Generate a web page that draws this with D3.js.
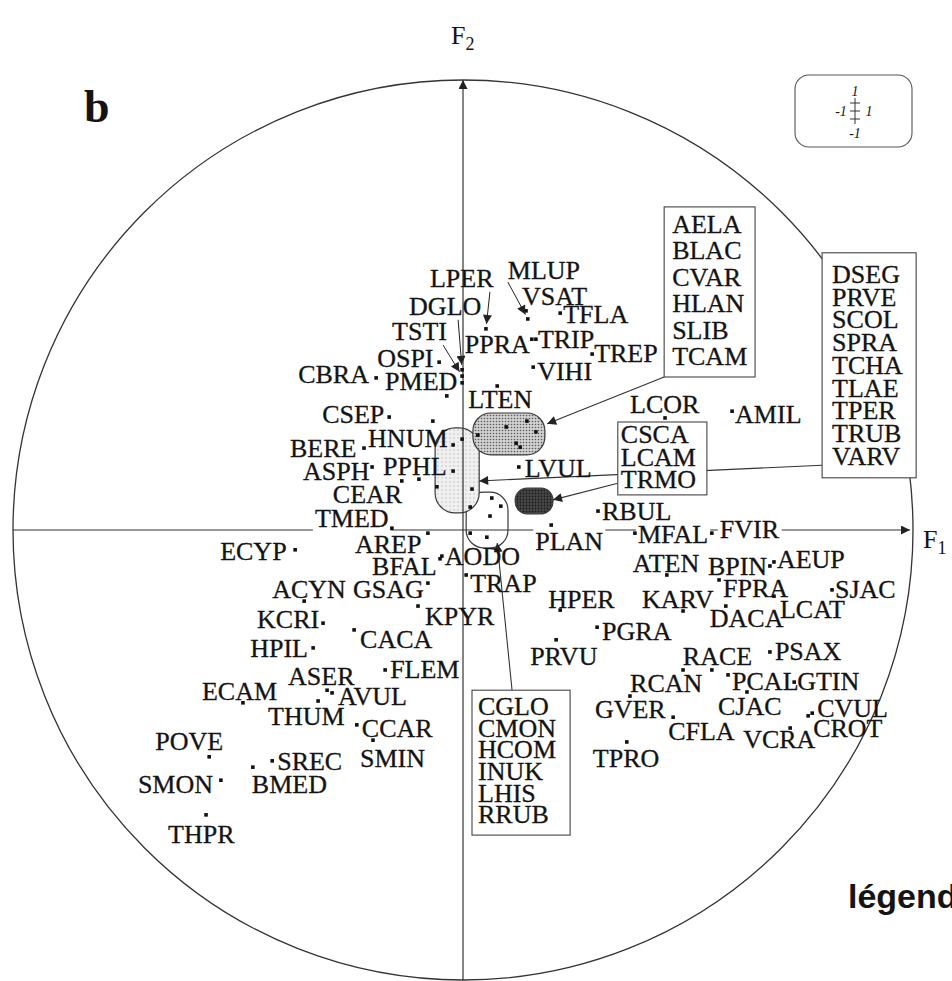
<!DOCTYPE html>
<html lang="fr">
<head>
<meta charset="UTF-8">
<title>Cercle F1 x F2</title>
<script src="https://d3js.org/d3.v7.min.js"></script>
<style>
  body { margin: 0; background: #fff; }
  text { font-family: "Liberation Serif", "DejaVu Serif", serif; fill: #141414; }
  .lab { stroke: #141414; stroke-width: 0.3; }
</style>
</head>
<body>
<script>
// species codes and their coordinates on the first two factors
const species = ["LPER","MLUP","VSAT","DGLO","TSTI","PMED","OSPI","CBRA","PPRA","TRIP",
  "TFLA","VIHI","TREP","LTEN","CSEP","HNUM","BERE","ASPH","PPHL","CEAR",
  "TMED","AREP","ECYP","AODO","BFAL","TRAP","ACYN","GSAG","KPYR","KCRI",
  "CACA","HPIL","FLEM","ASER","AVUL","ECAM","THUM","CCAR","SMIN","POVE",
  "SREC","BMED","SMON","THPR","LVUL","LCOR","AMIL","RBUL","PLAN","MFAL",
  "FVIR","ATEN","BPIN","AEUP","FPRA","SJAC","KARV","DACA","LCAT","HPER",
  "PGRA","PRVU","RACE","PSAX","RCAN","PCAL","GTIN","CJAC","CVUL","CROT",
  "GVER","CFLA","VCRA","TPRO"];
const f1 = [0.051,0.144,0.140,-0.002,-0.002,-0.002,-0.053,-0.193,0.153,0.162,
  0.216,0.156,0.287,0.076,-0.164,-0.022,-0.220,-0.202,-0.022,-0.136,
  -0.158,-0.078,-0.373,-0.047,-0.051,0.007,-0.353,-0.078,-0.100,-0.311,
  -0.242,-0.333,-0.173,-0.302,-0.291,-0.489,-0.322,-0.236,-0.200,-0.564,
  -0.424,-0.467,-0.538,-0.571,0.124,0.449,0.598,0.300,0.196,0.382,
  0.553,0.453,0.682,0.691,0.569,0.820,0.489,0.584,0.691,0.216,
  0.298,0.207,0.553,0.682,0.489,0.589,0.736,0.631,0.776,0.767,
  0.371,0.467,0.727,0.364];
const f2 = [0.447,0.469,0.487,0.356,0.342,0.327,0.373,0.338,0.424,0.424,
  0.482,0.362,0.391,0.320,0.251,0.189,0.182,0.140,0.131,0.109,
  0.004,-0.007,-0.044,-0.058,-0.064,-0.100,-0.158,-0.118,-0.169,-0.207,
  -0.222,-0.262,-0.311,-0.356,-0.362,-0.384,-0.380,-0.433,-0.467,-0.504,
  -0.513,-0.527,-0.556,-0.633,0.140,0.249,0.264,0.042,0.011,-0.007,
  -0.007,-0.100,-0.080,-0.071,-0.111,-0.133,-0.180,-0.169,-0.147,-0.178,
  -0.216,-0.244,-0.311,-0.271,-0.311,-0.322,-0.338,-0.360,-0.407,-0.413,
  -0.369,-0.416,-0.440,-0.471];

// points drawn without a name (inside the grouped areas)
const extraF1 = [-0.036,-0.067,-0.098,0.096,0.142,0.162,0.118,0.127,0.033,-0.002,
  -0.058,0.020,0.016,0.064,0.084,0.060,0.016,0.053];
const extraF2 = [0.298,0.242,0.113,0.229,0.242,0.218,0.193,0.184,0.211,0.202,
  0.096,0.091,0.051,0.071,0.053,0.031,-0.007,-0.016];

// species listed in the boxes
const groupA = ["AELA","BLAC","CVAR","HLAN","SLIB","TCAM"];
const groupB = ["DSEG","PRVE","SCOL","SPRA","TCHA","TLAE","TPER","TRUB","VARV"];
const groupC = ["CSCA","LCAM","TRMO"];
const groupD = ["CGLO","CMON","HCOM","INUK","LHIS","RRUB"];

// shaded areas: [f1 min, f1 max, f2 max, f2 min]
const areaDark = [0.022, 0.182, 0.260, 0.167];
const areaLight = [-0.062, 0.036, 0.227, 0.038];
const areaOpen = [0.007, 0.100, 0.084, -0.040];
const areaBlack = [0.116, 0.200, 0.093, 0.036];

// ---- layout (pixels) ----
const width = 952, height = 981;
const labelOffset = {
  LPER:[-56,-42], MLUP:[-20,-40], VSAT:[-4,-6], DGLO:[-53,-55], TSTI:[-70,-36],
  PMED:[-77,7], OSPI:[-62,5], CBRA:[-78,5], PPRA:[-67,14], TRIP:[2,9],
  TFLA:[3,10], VIHI:[4,13], TREP:[2,8], LTEN:[-29,22], CSEP:[-67,6],
  HNUM:[-85,2], BERE:[-74,9], ASPH:[-69,13], PPHL:[-70,4], CEAR:[-69,22],
  TMED:[-77,-1], AREP:[-73,20], ECYP:[-75,10], AODO:[3,9], BFAL:[-68,16],
  TRAP:[4,17], ACYN:[-32,-3], GSAG:[-75,15], KPYR:[7,19], KCRI:[-66,5],
  CACA:[6,18], HPIL:[-63,9], FLEM:[5,8], ASER:[-39,-5], AVUL:[6,12],
  ECAM:[-41,-3], THUM:[-50,24], CCAR:[5,12], SMIN:[-13,27], POVE:[-54,-7],
  SREC:[5,9], BMED:[-1,26], SMON:[-83,13], THPR:[-38,28], LVUL:[6,10],
  LCOR:[-35,-5], AMIL:[3,12], RBUL:[4,9], PLAN:[-16,25], MFAL:[3,10],
  FVIR:[8,5], ATEN:[-34,-3], BPIN:[-62,9], AEUP:[3,6], FPRA:[4,17],
  SJAC:[3,8], KARV:[-41,-3], DACA:[-16,21], LCAT:[6,22], HPER:[-12,-2],
  PGRA:[5,13], PRVU:[-26,25], RACE:[-29,-5], PSAX:[5,8], RCAN:[-53,22],
  PCAL:[4,15], GTIN:[3,8], CJAC:[-29,23], CVUL:[5,4], CROT:[5,21],
  GVER:[-35,22], CFLA:[-5,23], VCRA:[-47,20], TPRO:[-34,25]
};
// labels joined to their point by an arrow (start of the arrow, from the point)
const arrowFrom = { LPER:[4,-37], MLUP:[-20,-37], DGLO:[-4,-50], TSTI:[-19,-31] };
// labels that hide the horizontal axis
const axisMasked = ["TMED","PLAN","MFAL","FVIR"];

const svg = d3.select("body").append("svg")
  .attr("width", width).attr("height", height);

const x = d3.scaleLinear().domain([-1, 1]).range([13, 913]);
const y = d3.scaleLinear().domain([-1, 1]).range([980, 80]);

const defs = svg.append("defs");
function stipple(id, size, bg, dot, r) {
  const p = defs.append("pattern").attr("id", id)
    .attr("width", size).attr("height", size).attr("patternUnits", "userSpaceOnUse");
  p.append("rect").attr("width", size).attr("height", size).attr("fill", bg);
  p.append("circle").attr("cx", size / 2).attr("cy", size / 2).attr("r", r).attr("fill", dot);
}
stipple("st-mid", 3, "#d0d0d0", "#5a5a5a", 0.8);
stipple("st-light", 4, "#f0f0f0", "#b8b8b8", 0.7);
stipple("st-dark", 3, "#474747", "#1c1c1c", 0.9);

defs.append("marker").attr("id", "head")
  .attr("viewBox", "0 0 10 10").attr("refX", 10).attr("refY", 5)
  .attr("markerUnits", "userSpaceOnUse")
  .attr("markerWidth", 13).attr("markerHeight", 9).attr("orient", "auto")
  .append("path").attr("d", "M0,0L10,5L0,10Z").attr("fill", "#222");

// correlation circle
svg.append("circle")
  .attr("cx", x(0)).attr("cy", y(0)).attr("r", x(1) - x(0))
  .attr("fill", "none").attr("stroke", "#333").attr("stroke-width", 1.3);

// shaded areas
function area(b, fill, rx) {
  svg.append("rect")
    .attr("x", x(b[0])).attr("y", y(b[2]))
    .attr("width", x(b[1]) - x(b[0])).attr("height", y(b[3]) - y(b[2]))
    .attr("rx", rx)
    .attr("fill", fill).attr("stroke", "#3a3a3a").attr("stroke-width", 1.2);
}
area(areaOpen, "#fff", 18);
area(areaLight, "url(#st-light)", 20);
area(areaDark, "url(#st-mid)", 18);
area(areaBlack, "url(#st-dark)", 12);

// axes
svg.append("line")
  .attr("x1", x(-1)).attr("x2", x(1) - 3).attr("y1", y(0)).attr("y2", y(0))
  .attr("stroke", "#333").attr("stroke-width", 1.2).attr("marker-end", "url(#head)");
svg.append("line")
  .attr("x1", x(0)).attr("x2", x(0)).attr("y1", y(-1)).attr("y2", y(1))
  .attr("stroke", "#333").attr("stroke-width", 1.2).attr("marker-end", "url(#head)");

const f1Label = svg.append("text").attr("x", x(1) + 10).attr("y", y(0) + 18)
  .attr("font-size", 26).text("F");
f1Label.append("tspan").attr("font-size", 18).attr("dy", 6).text("1");
const f2Label = svg.append("text").attr("x", x(0) - 12).attr("y", 44)
  .attr("font-size", 26).text("F");
f2Label.append("tspan").attr("font-size", 18).attr("dy", 6).text("2");

// connectors from the boxes to the areas
const connectors = [
  [[0.447, 0.340], [0.187, 0.236]],
  [[0.798, 0.144], [0.036, 0.109]],
  [[0.344, 0.104], [0.200, 0.067]],
  [[0.109, -0.356], [0.076, -0.029]]
];
svg.selectAll(".conn").data(connectors).join("line")
  .attr("x1", d => x(d[0][0])).attr("y1", d => y(d[0][1]))
  .attr("x2", d => x(d[1][0])).attr("y2", d => y(d[1][1]))
  .attr("stroke", "#333").attr("stroke-width", 1.1)
  .attr("marker-end", "url(#head)");

// boxes with grouped species: [f1 left, f2 top, f1 right, f2 bottom]
const boxes = [
  { names: groupA, b: [0.447, 0.718, 0.649, 0.340], first: 26, step: 26.4, pad: 8 },
  { names: groupB, b: [0.798, 0.616, 1.007, 0.116], first: 30, step: 22.75, pad: 10 },
  { names: groupC, b: [0.344, 0.240, 0.542, 0.078], first: 21, step: 22.5, pad: 3 },
  { names: groupD, b: [0.020, -0.356, 0.238, -0.678], first: 25, step: 21.6, pad: 6 }
];
boxes.forEach(bx => {
  const g = svg.append("g");
  g.append("rect")
    .attr("x", x(bx.b[0])).attr("y", y(bx.b[1]))
    .attr("width", x(bx.b[2]) - x(bx.b[0])).attr("height", y(bx.b[3]) - y(bx.b[1]))
    .attr("fill", "#fff").attr("stroke", "#444").attr("stroke-width", 1.1);
  g.selectAll("text").data(bx.names).join("text")
    .attr("class", "lab")
    .attr("x", x(bx.b[0]) + bx.pad)
    .attr("y", (d, i) => y(bx.b[1]) + bx.first + i * bx.step)
    .attr("font-size", 26)
    .text(d => d);
});

// points
const points = species.map((s, i) => ({ name: s, u: f1[i], v: f2[i] }));
const extras = extraF1.map((u, i) => ({ u: u, v: extraF2[i] }));

const maskLayer = svg.append("g");
const labels = svg.append("g").selectAll("text").data(points).join("text")
  .attr("class", "lab")
  .attr("x", d => x(d.u) + labelOffset[d.name][0])
  .attr("y", d => y(d.v) + labelOffset[d.name][1])
  .attr("font-size", 26)
  .text(d => d.name);

labels.filter(d => axisMasked.includes(d.name)).each(function () {
  const bb = this.getBBox();
  maskLayer.append("rect")
    .attr("x", bb.x - 2).attr("y", bb.y).attr("width", bb.width + 4).attr("height", bb.height)
    .attr("fill", "#fff");
});

svg.append("g").selectAll("rect").data(points.concat(extras)).join("rect")
  .attr("x", d => x(d.u) - 1.8).attr("y", d => y(d.v) - 1.8)
  .attr("width", 3.6).attr("height", 3.6).attr("fill", "#111");

// arrows from some labels to their point
const arrowPts = points.filter(d => arrowFrom[d.name]);
svg.append("g").selectAll("line").data(arrowPts).join("line")
  .attr("x1", d => x(d.u) + arrowFrom[d.name][0])
  .attr("y1", d => y(d.v) + arrowFrom[d.name][1])
  .attr("x2", d => {
    const a = arrowFrom[d.name], l = Math.hypot(a[0], a[1]);
    return x(d.u) + a[0] * 5 / l;
  })
  .attr("y2", d => {
    const a = arrowFrom[d.name], l = Math.hypot(a[0], a[1]);
    return y(d.v) + a[1] * 5 / l;
  })
  .attr("stroke", "#222").attr("stroke-width", 1)
  .attr("marker-end", "url(#head)");

// panel letter
svg.append("text").attr("x", 84).attr("y", 122)
  .attr("font-size", 46).attr("font-weight", "bold").text("b");

// scale key
const key = svg.append("g").attr("transform", "translate(855,111)");
key.append("rect").attr("x", -60).attr("y", -36).attr("width", 117).attr("height", 72)
  .attr("rx", 14).attr("fill", "none").attr("stroke", "#555").attr("stroke-width", 1.1);
key.append("line").attr("x1", 0).attr("x2", 0).attr("y1", -13).attr("y2", 13)
  .attr("stroke", "#333");
[-8, 0, 8].forEach(t => key.append("line")
  .attr("x1", -5).attr("x2", 5).attr("y1", t).attr("y2", t).attr("stroke", "#333"));
const keyText = [["1", 0, -15], ["-1", -14, 5], ["1", 14, 5], ["-1", 0, 27]];
keyText.forEach(k => key.append("text")
  .attr("x", k[1]).attr("y", k[2]).attr("text-anchor", "middle")
  .attr("font-size", 14).attr("font-style", "italic").text(k[0]));

// legend title (cut by the page edge)
svg.append("text").attr("x", 848).attr("y", 908)
  .style("font-family", "'Liberation Sans', Arial, sans-serif")
  .attr("font-size", 34).attr("font-weight", "bold").attr("fill", "#2a2a2a")
  .text("légende");
</script>
</body>
</html>
